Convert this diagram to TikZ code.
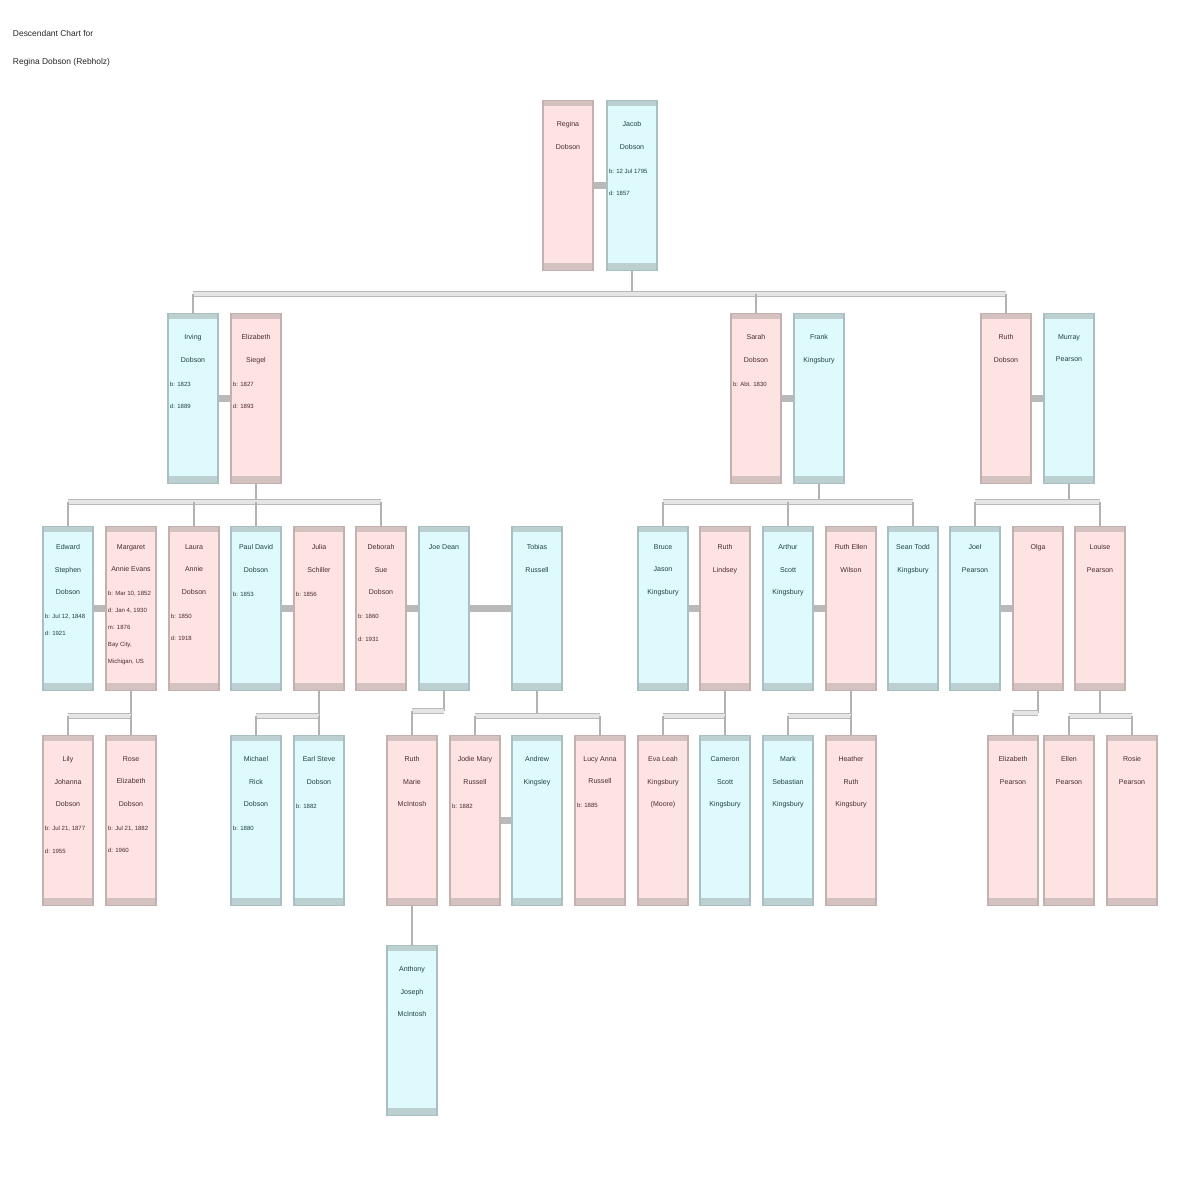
\documentclass[tikz,border=0pt]{standalone}
\usepackage{fontspec}
\setmainfont{Liberation Sans}
\usetikzlibrary{calc}
\definecolor{femfill}{RGB}{253,228,226}
\definecolor{femline}{RGB}{196,176,174}
\definecolor{femband}{RGB}{212,194,192}
\definecolor{femtext}{RGB}{70,45,45}
\definecolor{malefill}{RGB}{222,250,253}
\definecolor{maleline}{RGB}{168,192,194}
\definecolor{maleband}{RGB}{188,208,210}
\definecolor{maletext}{RGB}{32,64,66}
\def\who#1#2{\parbox[c][3.9cm][t]{1.15cm}{\vspace*{10pt}\centering\fontsize{5}{16}\selectfont#1\par\vspace{1pt}\raggedright\fontsize{4.3}{16}\selectfont#2\par}}
\def\whotight#1#2{\parbox[c][3.9cm][t]{1.15cm}{\vspace*{10pt}\centering\fontsize{5}{16}\selectfont#1\par\vspace{5pt}\raggedright\fontsize{4.3}{12}\selectfont#2\par}}
\tikzset{
  person/.style={rectangle, anchor=north, inner sep=0pt, minimum width=1.25cm, minimum height=4.25cm, line width=0.8pt},
  fem/.style={person, fill=femfill, draw=femline, text=femtext,
    path picture={\fill[femband] (path picture bounding box.north west) rectangle ([yshift=-0.14cm]path picture bounding box.north east);
      \fill[femband] (path picture bounding box.south west) rectangle ([yshift=0.2cm]path picture bounding box.south east);}},
  male/.style={person, fill=malefill, draw=maleline, text=maletext,
    path picture={\fill[maleband] (path picture bounding box.north west) rectangle ([yshift=-0.14cm]path picture bounding box.north east);
      \fill[maleband] (path picture bounding box.south west) rectangle ([yshift=0.2cm]path picture bounding box.south east);}},
  low/.style={minimum height=4.1cm},
  couple/.style={draw=gray!55, line width=4.5pt},
  bus/.style={draw=gray!55, double=gray!20, double distance=3pt, line width=0.6pt},
  kid/.style={draw=gray!60, line width=0.8pt}
}
\begin{document}
\begin{tikzpicture}[x=0.025cm, y=-0.025cm]
		%%%%% START %%%%%
		\useasboundingbox (0,0) rectangle (1200,1200);
		
		\node[anchor=north west, align=left, text=black!85, font=\fontsize{6}{20}\selectfont] (title) at (8,25) {Descendant Chart for\\Regina Dobson (Rebholz)};
		
		% generation 1
		\node[fem] (regina) at (568,100) {\who{Regina\\Dobson}{}};
		\node[male] (jacob) at (632,100) {\who{Jacob\\Dobson}{b: 12 Jul 1795\\d: 1857}};
		\draw[couple] (regina.east) -- (jacob.west);
		
		% generation 2
		\node[male] (irving) at (193,313) {\who{Irving\\Dobson}{b: 1823\\d: 1889}};
		\node[fem] (elizabeth) at (256,313) {\who{Elizabeth\\Siegel}{b: 1827\\d: 1893}};
		\node[fem] (sarah) at (756,313) {\who{Sarah\\Dobson}{b: Abt. 1830}};
		\node[male] (frank) at (819,313) {\who{Frank\\Kingsbury}{}};
		\node[fem] (ruth) at (1006,313) {\who{Ruth\\Dobson}{}};
		\node[male] (murray) at (1069,313) {\who{Murray\\Pearson}{}};
		\draw[couple] (irving.east) -- (elizabeth.west);
		\draw[couple] (sarah.east) -- (frank.west);
		\draw[couple] (ruth.east) -- (murray.west);
		
		\coordinate (b1) at ($(jacob.south)+(0,23)$);
		\draw[kid] (jacob.south) -- (b1);
		\draw[bus] (irving.north |- b1) -- (ruth.north |- b1);
		\draw[kid] (irving.north |- b1) -- (irving.north);
		\draw[kid] (sarah.north |- b1) -- (sarah.north);
		\draw[kid] (ruth.north |- b1) -- (ruth.north);
		
		% generation 3
		\node[male, low] (edward) at (68,526) {\whotight{Edward\\Stephen\\Dobson}{b: Jul 12, 1848\\d: 1921}};
		\node[fem, low] (margaret) at (131,526) {\whotight{Margaret\\Annie Evans}{b: Mar 10, 1852\\d: Jan 4, 1930\\m: 1876\\Bay City,\\Michigan, US}};
		\node[fem, low] (laura) at (194,526) {\who{Laura\\Annie\\Dobson}{b: 1850\\d: 1918}};
		\node[male, low] (paul) at (256,526) {\who{Paul David\\Dobson}{b: 1853}};
		\node[fem, low] (julia) at (319,526) {\who{Julia\\Schiller}{b: 1856}};
		\node[fem, low] (deborah) at (381,526) {\who{Deborah\\Sue\\Dobson}{b: 1860\\d: 1931}};
		\node[male, low] (joe) at (444,526) {\who{Joe Dean}{}};
		\node[male, low] (tobias) at (537,526) {\who{Tobias\\Russell}{}};
		\node[male, low] (bruce) at (663,526) {\who{Bruce\\Jason\\Kingsbury}{}};
		\node[fem, low] (ruthl) at (725,526) {\who{Ruth\\Lindsey}{}};
		\node[male, low] (arthur) at (788,526) {\who{Arthur\\Scott\\Kingsbury}{}};
		\node[fem, low] (ruthe) at (851,526) {\who{Ruth Ellen\\Wilson}{}};
		\node[male, low] (sean) at (913,526) {\who{Sean Todd\\Kingsbury}{}};
		\node[male, low] (joel) at (975,526) {\who{Joel\\Pearson}{}};
		\node[fem, low] (olga) at (1038,526) {\who{Olga}{}};
		\node[fem, low] (louise) at (1100,526) {\who{Louise\\Pearson}{}};
		\draw[couple] (edward.east) -- (margaret.west);
		\draw[couple] (paul.east) -- (julia.west);
		\draw[couple] (deborah.east) -- (joe.west);
		\draw[couple] (joe.east) -- (tobias.west);
		\draw[couple] (bruce.east) -- (ruthl.west);
		\draw[couple] (arthur.east) -- (ruthe.west);
		\draw[couple] (joel.east) -- (olga.west);
		
		\coordinate (b2a) at ($(elizabeth.south)+(0,18)$);
		\draw[kid] (elizabeth.south) -- (b2a);
		\draw[bus] (edward.north |- b2a) -- (deborah.north |- b2a);
		\foreach \n in {edward,laura,paul,deborah}
			\draw[kid] (\n.north |- b2a) -- (\n.north);
		
		\coordinate (b2b) at ($(frank.south)+(0,18)$);
		\draw[kid] (frank.south) -- (b2b);
		\draw[bus] (bruce.north |- b2b) -- (sean.north |- b2b);
		\foreach \n in {bruce,arthur,sean}
			\draw[kid] (\n.north |- b2b) -- (\n.north);
		
		\coordinate (b2c) at ($(murray.south)+(0,18)$);
		\draw[kid] (murray.south) -- (b2c);
		\draw[bus] (joel.north |- b2c) -- (louise.north |- b2c);
		\foreach \n in {joel,louise}
			\draw[kid] (\n.north |- b2c) -- (\n.north);
		
		% generation 4
		\node[fem] (lily) at (68,735) {\who{Lily\\Johanna\\Dobson}{b: Jul 21, 1877\\d: 1955}};
		\node[fem] (rose) at (131,735) {\who{Rose\\Elizabeth\\Dobson}{b: Jul 21, 1882\\d: 1960}};
		\node[male] (michael) at (256,735) {\who{Michael\\Rick\\Dobson}{b: 1880}};
		\node[male] (earl) at (319,735) {\who{Earl Steve\\Dobson}{b: 1882}};
		\node[fem] (ruthm) at (412,735) {\who{Ruth\\Marie\\McIntosh}{}};
		\node[fem] (jodie) at (475,735) {\who{Jodie Mary\\Russell}{b: 1882}};
		\node[male] (andrew) at (537,735) {\who{Andrew\\Kingsley}{}};
		\node[fem] (lucy) at (600,735) {\who{Lucy Anna\\Russell}{b: 1885}};
		\node[fem] (eva) at (663,735) {\who{Eva Leah\\Kingsbury\\(Moore)}{}};
		\node[male] (cameron) at (725,735) {\who{Cameron\\Scott\\Kingsbury}{}};
		\node[male] (mark) at (788,735) {\who{Mark\\Sebastian\\Kingsbury}{}};
		\node[fem] (heather) at (851,735) {\who{Heather\\Ruth\\Kingsbury}{}};
		\node[fem] (elizp) at (1013,735) {\who{Elizabeth\\Pearson}{}};
		\node[fem] (ellen) at (1069,735) {\who{Ellen\\Pearson}{}};
		\node[fem] (rosie) at (1132,735) {\who{Rosie\\Pearson}{}};
		\draw[couple] (jodie.east) -- (andrew.west);
		
		\coordinate (b3a) at ($(margaret.south)+(0,25)$);
		\draw[kid] (margaret.south) -- (b3a);
		\draw[bus] (lily.north |- b3a) -- (rose.north |- b3a);
		\draw[kid] (lily.north |- b3a) -- (lily.north);
		\draw[kid] (rose.north |- b3a) -- (rose.north);
		
		\coordinate (b3b) at ($(julia.south)+(0,25)$);
		\draw[kid] (julia.south) -- (b3b);
		\draw[bus] (michael.north |- b3b) -- (earl.north |- b3b);
		\draw[kid] (michael.north |- b3b) -- (michael.north);
		\draw[kid] (earl.north |- b3b) -- (earl.north);
		
		\coordinate (b3c) at ($(joe.south)+(0,20)$);
		\draw[kid] (joe.south) -- (b3c);
		\draw[bus] (b3c) -- (ruthm.north |- b3c);
		\draw[kid] (ruthm.north |- b3c) -- (ruthm.north);
		
		\coordinate (b3d) at ($(tobias.south)+(0,25)$);
		\draw[kid] (tobias.south) -- (b3d);
		\draw[bus] (jodie.north |- b3d) -- (lucy.north |- b3d);
		\draw[kid] (jodie.north |- b3d) -- (jodie.north);
		\draw[kid] (lucy.north |- b3d) -- (lucy.north);
		
		\coordinate (b3e) at ($(ruthl.south)+(0,25)$);
		\draw[kid] (ruthl.south) -- (b3e);
		\draw[bus] (eva.north |- b3e) -- (cameron.north |- b3e);
		\draw[kid] (eva.north |- b3e) -- (eva.north);
		\draw[kid] (cameron.north |- b3e) -- (cameron.north);
		
		\coordinate (b3f) at ($(ruthe.south)+(0,25)$);
		\draw[kid] (ruthe.south) -- (b3f);
		\draw[bus] (mark.north |- b3f) -- (heather.north |- b3f);
		\draw[kid] (mark.north |- b3f) -- (mark.north);
		\draw[kid] (heather.north |- b3f) -- (heather.north);
		
		\coordinate (b3g) at ($(olga.south)+(0,22)$);
		\draw[kid] (olga.south) -- (b3g);
		\draw[bus] (b3g) -- (elizp.north |- b3g);
		\draw[kid] (elizp.north |- b3g) -- (elizp.north);
		
		\coordinate (b3h) at ($(louise.south)+(0,25)$);
		\draw[kid] (louise.south) -- (b3h);
		\draw[bus] (ellen.north |- b3h) -- (rosie.north |- b3h);
		\draw[kid] (ellen.north |- b3h) -- (ellen.north);
		\draw[kid] (rosie.north |- b3h) -- (rosie.north);
		
		% generation 5
		\node[male] (anthony) at (412,945) {\who{Anthony\\Joseph\\McIntosh}{}};
		\draw[kid] (ruthm.south) -- (anthony.north);
		
		%%%%% END %%%%%
	\end{tikzpicture}
\end{document}
